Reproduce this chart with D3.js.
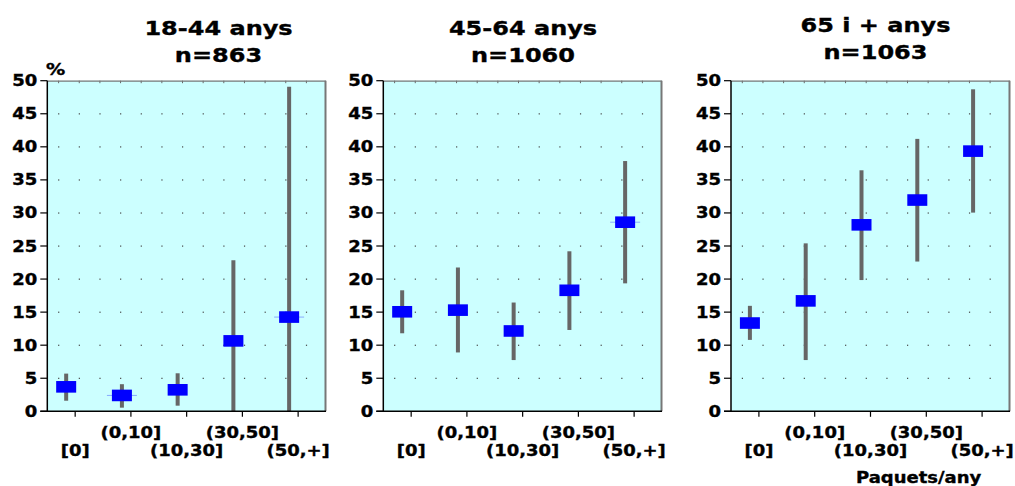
<!DOCTYPE html>
<html>
<head>
<meta charset="utf-8">
<script src="https://cdn.jsdelivr.net/npm/d3@7/dist/d3.min.js"></script>
<style>
  html, body { margin: 0; padding: 0; background: #ffffff; }
  svg { display: block; }
  text { font-family: "DejaVu Sans", Verdana, sans-serif; font-weight: bold; fill: #000; stroke: #000; stroke-width: 0.35px; }
</style>
</head>
<body>
<svg id="chart" width="1015" height="486"></svg>
<script>
// ---------- data ----------
const categories = ["[0]", "(0,10]", "(10,30]", "(30,50]", "(50,+]"];
const panelTitles = [["18-44 anys", "n=863"], ["45-64 anys", "n=1060"], ["65 i + anys", "n=1063"]];
const yTicks = [0, 5, 10, 15, 20, 25, 30, 35, 40, 45, 50];

const estimate1 = [3.7, 2.4, 3.25, 10.65, 14.25];
const lower1    = [1.6, 0.55, 0.85, 0, 0];
const upper1    = [5.7, 4.1, 5.75, 22.85, 49.1];

const estimate2 = [15.05, 15.3, 12.15, 18.3, 28.6];
const lower2    = [11.8, 8.9, 7.75, 12.3, 19.35];
const upper2    = [18.3, 21.75, 16.45, 24.2, 37.85];

const estimate3 = [13.35, 16.7, 28.2, 31.95, 39.35];
const lower3    = [10.8, 7.75, 19.85, 22.65, 30.05];
const upper3    = [15.95, 25.4, 36.45, 41.2, 48.7];

const halo1 = [0, 1, 0, 0, 1];
const halo2 = [0, 0, 0, 0, 1];
const halo3 = [0, 0, 0, 0, 0];

const yLabel = "%";
const xLabel = "Paquets/any";

// ---------- layout ----------
const panels = [
  { left: 47.3,  right: 326,   titleX: 218.5, titleY: 35,   est: estimate1, lo: lower1, hi: upper1, halo: halo1, title: panelTitles[0] },
  { left: 383.3, right: 662,   titleX: 523,   titleY: 35,   est: estimate2, lo: lower2, hi: upper2, halo: halo2, title: panelTitles[1] },
  { left: 731,   right: 1010,  titleX: 875.5, titleY: 31.7, est: estimate3, lo: lower3, hi: upper3, halo: halo3, title: panelTitles[2] }
];
const plotTop = 80.7, plotBottom = 411.3;
const SX = 1.2; // horizontal text stretch
const svg = d3.select("#chart");

function stretchedText(g, x, yy, str, size, anchor) {
  return g.append("text")
    .attr("transform", `translate(${x},${yy}) scale(${SX},1)`)
    .attr("font-size", size)
    .attr("text-anchor", anchor || "middle")
    .text(str);
}

const y = d3.scaleLinear().domain([0, 50]).range([plotBottom, plotTop]);

panels.forEach((p, pi) => {
  const g = svg.append("g");
  const x = d3.scaleBand().domain(categories).range([p.left, p.right]).padding(0);
  const cx = c => x(c) + x.bandwidth() / 2;

  // background
  g.append("rect").attr("x", p.left).attr("y", plotTop)
    .attr("width", p.right - p.left).attr("height", plotBottom - plotTop)
    .attr("fill", "#ccffff");

  // dotted grid
  const dotXs = d3.range(13).map(i => p.left + 11.3 + i * 20.65);
  yTicks.filter(t => t > 0 && t < 50).forEach(t => {
    dotXs.forEach(dx => {
      g.append("rect").attr("x", dx - 0.5).attr("y", y(t) - 0.5)
        .attr("width", 1.2).attr("height", 1.2).attr("fill", "#444");
    });
  });
  // top small ticks
  dotXs.forEach(dx => {
    g.append("line").attr("x1", dx).attr("x2", dx).attr("y1", plotTop).attr("y2", plotTop + 2.5)
      .attr("stroke", "#666").attr("stroke-width", 1);
  });

  // top + right border
  g.append("line").attr("x1", p.left).attr("x2", p.right).attr("y1", plotTop + 0.5).attr("y2", plotTop + 0.5)
    .attr("stroke", "#777").attr("stroke-width", 1.2);
  g.append("line").attr("x1", p.right - 0.5).attr("x2", p.right - 0.5).attr("y1", plotTop).attr("y2", plotBottom)
    .attr("stroke", "#777").attr("stroke-width", 2);

  // error bars + markers
  categories.forEach((c, i) => {
    const bx = cx(c) - 9;
    g.append("line").attr("x1", bx).attr("x2", bx)
      .attr("y1", y(p.hi[i])).attr("y2", y(p.lo[i]))
      .attr("stroke", "#666666").attr("stroke-width", 4);
    if (p.halo[i]) {
      g.append("line").attr("x1", bx - 15).attr("x2", bx + 15)
        .attr("y1", y(p.est[i])).attr("y2", y(p.est[i]))
        .attr("stroke", "#88aaff").attr("stroke-width", 1);
    }
    g.append("rect").attr("x", bx - 10).attr("y", y(p.est[i]) - 5.8)
      .attr("width", 20).attr("height", 11.6)
      .attr("fill", "#0000ff");
  });

  // y axis
  g.append("line").attr("x1", p.left).attr("x2", p.left).attr("y1", plotTop).attr("y2", plotBottom)
    .attr("stroke", "#000").attr("stroke-width", 1.5);
  yTicks.forEach(t => {
    g.append("line").attr("x1", p.left - 7).attr("x2", p.left).attr("y1", y(t)).attr("y2", y(t))
      .attr("stroke", "#000").attr("stroke-width", 1.2);
    stretchedText(g, p.left - 10, y(t) + 5.5, String(t), 15, "end");
  });

  // x axis
  g.append("line").attr("x1", p.left - 7).attr("x2", p.right).attr("y1", plotBottom).attr("y2", plotBottom)
    .attr("stroke", "#000").attr("stroke-width", 1.5);
  categories.forEach((c, i) => {
    g.append("line").attr("x1", cx(c)).attr("x2", cx(c)).attr("y1", plotBottom).attr("y2", plotBottom + 5.5)
      .attr("stroke", "#000").attr("stroke-width", 1.2);
    stretchedText(g, cx(c), i % 2 === 0 ? 455.5 : 438, c, 15, "middle");
  });

  // titles
  stretchedText(g, p.titleX, p.titleY, p.title[0], 20, "middle");
  stretchedText(g, p.titleX, p.titleY + 27, p.title[1], 20, "middle");

  if (pi === 0) stretchedText(g, 46, 75, yLabel, 16, "start");
  if (pi === 2) stretchedText(g, 856, 483, xLabel, 15, "start");
});
</script>
</body>
</html>
